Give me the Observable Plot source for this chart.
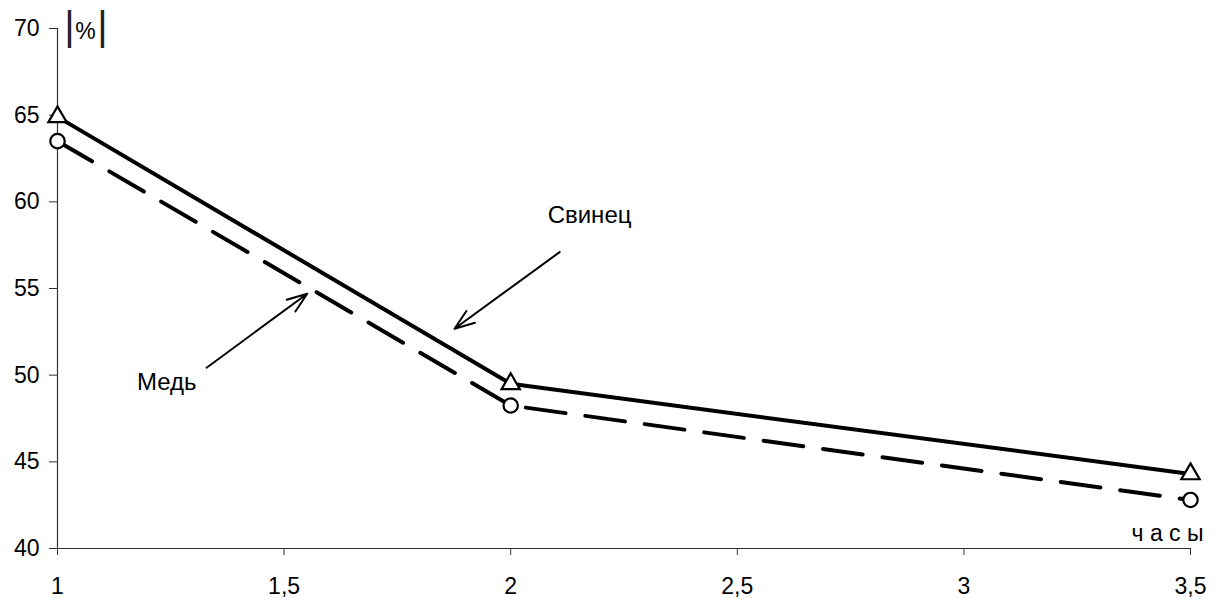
<!DOCTYPE html>
<html><head><meta charset="utf-8">
<script src="https://cdn.jsdelivr.net/npm/d3@7"></script>
<script src="https://cdn.jsdelivr.net/npm/@observablehq/plot@0.6"></script>
<style>body{margin:0;background:#fff}</style>
</head><body><div id="chart"></div>
<script>
const hours = [1, 2, 3.5];
const leadValues = [64.9, 49.5, 44.3];
const copperValues = [63.5, 48.25, 42.8];
const xTicks = [1, 1.5, 2, 2.5, 3, 3.5];
const yTicks = [40, 45, 50, 55, 60, 65, 70];
const seriesNames = ["Свинец", "Медь"];
const labelX = [2.174, 1.241];
const labelY = [59.22, 49.58];
const arrowFrom = [[2.108, 57.10], [1.329, 50.43]];
const arrowTo = [[1.876, 52.68], [1.551, 54.70]];
const unitLabel = "%";
const xUnitLabel = "ч а с ы";

const lead = hours.map((h, i) => ({x: h, y: leadValues[i]}));
const copper = hours.map((h, i) => ({x: h, y: copperValues[i]}));
const labels = seriesNames.map((s, i) => ({x: labelX[i], y: labelY[i], text: s}));
const arrows = seriesNames.map((s, i) => ({x1: arrowFrom[i][0], y1: arrowFrom[i][1], x2: arrowTo[i][0], y2: arrowTo[i][1]}));
const fmt = d => String(d).replace(".", ",");
const F = 23;
const barFont = "'Liberation Sans Narrow', 'Liberation Sans', Arial, sans-serif";

const chart = Plot.plot({
  width: 1225, height: 599,
  marginLeft: 57, marginRight: 35, marginTop: 28, marginBottom: 51,
  style: {fontFamily: "'Liberation Sans', Arial, sans-serif", background: "#fff", color: "#000"},
  x: {domain: [1, 3.5]},
  y: {domain: [40, 70]},
  marks: [
    Plot.axisY({ticks: yTicks, tickSize: 8, tickPadding: 10, fontSize: F, label: null, stroke: "#333", fill: "#000"}),
    Plot.axisX({ticks: xTicks, tickSize: 7, tickPadding: 22, fontSize: F, label: null, tickFormat: fmt, stroke: "#333", fill: "#000"}),
    Plot.ruleX([1], {stroke: "#333", strokeWidth: 1.2}),
    Plot.ruleY([40], {stroke: "#333", strokeWidth: 1.2}),
    Plot.line(lead, {x: "x", y: "y", stroke: "#000", strokeWidth: 4}),
    Plot.line(copper, {x: "x", y: "y", stroke: "#000", strokeWidth: 4, strokeDasharray: "40,20"}),
    Plot.dot(lead, {x: "x", y: "y", symbol: "triangle", r: 6.8, fill: "#fff", stroke: "#000", strokeWidth: 2.2}),
    Plot.dot(copper, {x: "x", y: "y", symbol: "circle", r: 7.2, fill: "#fff", stroke: "#000", strokeWidth: 2.2}),
    Plot.arrow(arrows, {x1: "x1", y1: "y1", x2: "x2", y2: "y2", stroke: "#000", strokeWidth: 2, headLength: 16, headAngle: 40}),
    Plot.text(labels, {x: "x", y: "y", text: "text", fontSize: 24, fill: "#000", textAnchor: "middle"}),
    Plot.text([unitLabel], {x: 1, y: 70, text: d => d, fontSize: 23, dx: 28, dy: 3, fill: "#000"}),
    Plot.text(["|"], {x: 1, y: 70, text: d => d, fontSize: 40, fontFamily: barFont, dx: 12, dy: -1, fill: "#222"}),
    Plot.text(["|"], {x: 1, y: 70, text: d => d, fontSize: 40, fontFamily: barFont, dx: 45, dy: -1, fill: "#222"}),
    Plot.text([xUnitLabel], {x: 3.5, y: 40, text: d => d, fontSize: F, textAnchor: "end", lineAnchor: "bottom", dx: 13, dy: -8, fill: "#000"})
  ]
});
document.getElementById("chart").append(chart);
</script>
</body></html>
